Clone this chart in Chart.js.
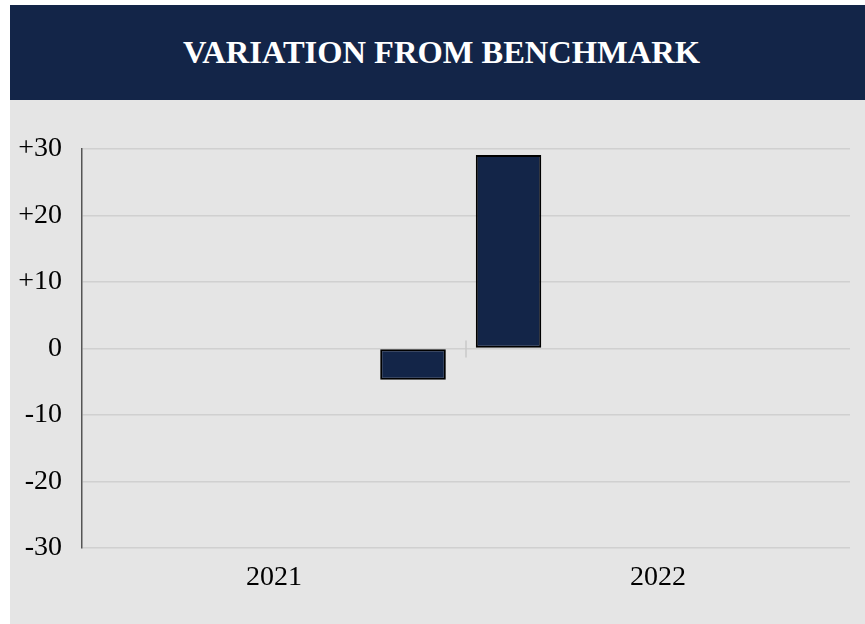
<!DOCTYPE html>
<html lang="en">
<head>
    <meta charset="UTF-8">
    <title>Variation from Benchmark</title>
    <script src="https://cdn.jsdelivr.net/npm/chart.js"></script>
    <style>
        html, body {
            margin: 0;
            padding: 0;
            background: #ffffff;
        }
        .panel {
            position: absolute;
            left: 10px;
            top: 5px;
            width: 855px;
            height: 619px;
            background: #e5e5e5;
        }
        .banner {
            height: 95px;
            background: #132548;
            color: #ffffff;
            display: flex;
            align-items: center;
            justify-content: center;
            padding-left: 8px;
            font-family: 'Liberation Serif', 'Times New Roman', serif;
            font-weight: bold;
            font-size: 32.5px;
        }
        #variation-chart {
            display: block;
        }
    </style>
</head>
<body>
    <div class="panel">
        <div class="banner">VARIATION FROM BENCHMARK</div>
        <canvas id="variation-chart" width="855" height="524"></canvas>
    </div>

    <script>
        // data
        const years = ['2021', '2022'];
        const variation = [-4.7, 29.1];
        const yTicks = [-30, -20, -10, 0, 10, 20, 30];
        const yTickLabels = ['-30', '-20', '-10', '0', '+10', '+20', '+30'];

        const navy = '#132548';
        const serif = "'Liberation Serif', 'Times New Roman', serif";

        // small tick on the zero line between the two years
        const zeroTick = {
            id: 'zeroTick',
            afterDatasetsDraw(chart) {
                const x = chart.scales.x, y = chart.scales.y;
                const px = (x.getPixelForValue(0) + x.getPixelForValue(1)) / 2;
                const py = y.getPixelForValue(0);
                const ctx = chart.ctx;
                ctx.save();
                ctx.strokeStyle = '#c8c8c8';
                ctx.lineWidth = 1.5;
                ctx.beginPath();
                ctx.moveTo(px, py - 8);
                ctx.lineTo(px, py + 9);
                ctx.stroke();
                ctx.restore();
            }
        };

        const barStyle = {
            backgroundColor: navy,
            borderColor: '#000000',
            borderWidth: 2,
            borderSkipped: false
        };

        new Chart(document.getElementById('variation-chart'), {
            type: 'bar',
            data: {
                labels: years,
                datasets: [
                    Object.assign({
                        label: '2022',
                        data: years.map((yr, i) => i === 1 ? variation[i] : null),
                        categoryPercentage: 1.557,
                        barPercentage: 0.219
                    }, barStyle),
                    Object.assign({
                        label: '2021',
                        data: years.map((yr, i) => i === 0 ? variation[i] : null),
                        categoryPercentage: 1.448,
                        barPercentage: 0.236
                    }, barStyle)
                ]
            },
            options: {
                responsive: false,
                animation: false,
                layout: {
                    padding: { top: 49, right: 15, left: 0, bottom: 0 }
                },
                plugins: {
                    legend: { display: false },
                    tooltip: { enabled: false }
                },
                scales: {
                    x: {
                        grid: { display: false, drawTicks: false },
                        border: { display: false },
                        ticks: {
                            padding: 13,
                            color: '#000000',
                            font: { family: serif, size: 28 }
                        },
                        afterFit(scale) { scale.height = 76; }
                    },
                    y: {
                        min: -30,
                        max: 30,
                        afterBuildTicks(scale) {
                            scale.ticks = yTicks.map(v => ({ value: v }));
                        },
                        grid: {
                            color: '#d0d0d0',
                            lineWidth: 1.5,
                            drawTicks: false
                        },
                        border: { color: '#555555', width: 1.5 },
                        ticks: {
                            padding: 20,
                            color: '#000000',
                            font: { family: serif, size: 28 },
                            callback: (value) => yTickLabels[yTicks.indexOf(value)]
                        },
                        afterFit(scale) { scale.width = 72; }
                    }
                }
            },
            plugins: [zeroTick]
        });
    </script>
</body>
</html>
